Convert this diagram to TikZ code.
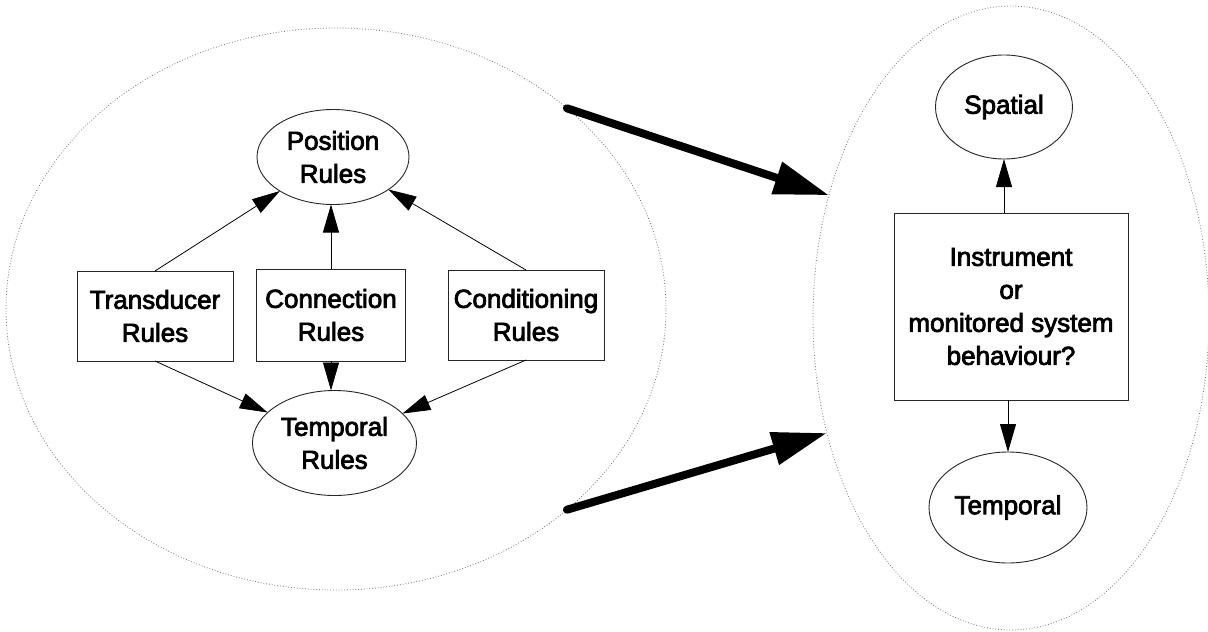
\documentclass[tikz,border=0pt]{standalone}
\usepackage{fontspec}
\setmainfont{Liberation Sans}[FakeBold=3]
\usetikzlibrary{shapes.geometric,arrows.meta}
\begin{document}
\begin{tikzpicture}[x=1pt,y=-1pt,
 txt/.style={font=\fontsize{26}{33}\selectfont, align=center, text=black},
 rulebox/.style={txt, draw=black!85, line width=0.9pt, rectangle, inner sep=0pt, outer sep=0pt},
 oval/.style={txt, draw=black!85, line width=0.9pt, ellipse, inner sep=0pt, outer sep=0pt},
 halo/.style={draw=black!55, ellipse, line width=0.8pt, dash pattern=on 0.8pt off 2pt, inner sep=0pt, outer sep=0pt},
 link/.style={draw=black, line width=0.8pt, -{Triangle[length=28pt,width=16pt]}},
 bigarrow/.style={draw=black, line width=8pt, line cap=round, -{Triangle[length=55pt,width=32pt]}}
]
\useasboundingbox (0,0) rectangle (1208,632);
\fill[white] (0,0) rectangle (1208,632);
% outer dotted regions
\node[halo, minimum width=660pt, minimum height=562pt] (L) at (336,309) {};
\node[halo, minimum width=396pt, minimum height=624pt] (R) at (1011,318) {};
% left group
\node[oval, minimum width=152pt, minimum height=95pt] (pos) at (333,157) {Position\\Rules};
\node[rulebox, minimum width=156pt, minimum height=90pt] (trans) at (155,316) {Transducer\\Rules};
\node[rulebox, minimum width=149pt, minimum height=92pt] (conn) at (331,315) {Connection\\Rules};
\node[rulebox, minimum width=156pt, minimum height=90pt] (cond) at (526,315) {Conditioning\\Rules};
\node[oval, minimum width=164pt, minimum height=105pt] (temp) at (334.5,443) {Temporal\\Rules};
\draw[link] (trans.north) -- (pos);
\draw[link] (conn.north) -- (pos.south -| conn.north);
\draw[link] (cond.north) -- (pos);
\draw[link] (trans.south) -- (temp);
\draw[link] (conn.south) -- (temp.north -| conn.south);
\draw[link] (cond.south) -- (temp);
% right group
\node[oval, minimum width=137pt, minimum height=104pt] (spat) at (1004,107) {Spatial};
\node[rulebox, minimum width=234pt, minimum height=187pt] (inst) at (1011,306.5) {Instrument\\or\\monitored system\\behaviour?};
\node[oval, minimum width=158pt, minimum height=111pt] (tempo) at (1008,507.5) {Temporal};
\draw[link] (inst.north -| spat) -- (spat.south);
\draw[link] (inst.south -| tempo) -- (tempo.north);
% thick arrows
\draw[bigarrow] (L.41.7) -- (R.146.7);
\draw[bigarrow] (L.-41.2) -- (R.212.6);
\end{tikzpicture}
\end{document}
